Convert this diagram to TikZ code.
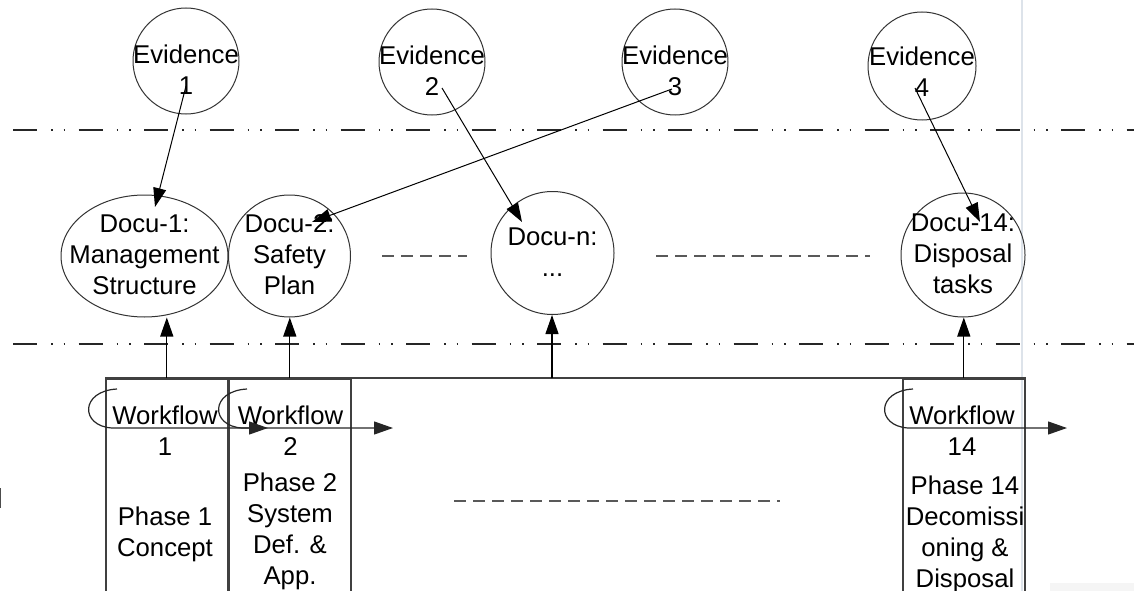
\documentclass[tikz,border=0pt]{standalone}
\usepackage{fontspec}
\setmainfont{Liberation Sans}
\usetikzlibrary{arrows.meta,shapes.geometric}
\begin{document}
\begin{tikzpicture}[x=1pt,y=-1pt,
  txt/.style={font=\fontsize{25.7}{31}\selectfont, align=center, inner sep=0pt},
  ring/.style={draw=black!80, line width=1pt, circle, inner sep=0pt},
  oval/.style={draw=black!80, line width=1pt, ellipse, inner sep=0pt},
  phasebox/.style={draw=black!75, line width=1.6pt, rectangle, anchor=north west,
    minimum width=122pt, minimum height=240pt, inner sep=0pt},
  tipstyle/.style={-{Triangle[length=19pt,width=13pt]}},
  evarrow/.style={tipstyle, line width=1pt, black},
  uparrow/.style={tipstyle, line width=1.2pt, black},
  flowarrow/.style={tipstyle, line width=1.2pt, black!85},
  laneline/.style={line width=1.6pt, black!85,
    dash pattern=on 24pt off 14pt on 1.5pt off 11pt on 1.5pt off 13.5pt},
  gapline/.style={line width=2.8pt, black!65, dash pattern=on 12pt off 7pt},
]
\useasboundingbox (0,0) rectangle (1134,591);
\clip (0,0) rectangle (1134,591);

% page edge marks
\draw[line width=2pt, color={rgb,255:red,221;green,227;blue,234}] (1022,0) -- (1022,591);
\fill[black!4] (1050,583) rectangle (1134,591);
\draw[line width=1.5pt, black!70] (0.5,488) -- (0.5,508);

% swim-lane separators
\draw[laneline] (13,130) -- (1134,130);
\draw[laneline] (13,344) -- (1134,344);

% evidence items
\node[ring, minimum size=106pt] (e1) at (186,61) {};
\node[txt] (te1) at (186,69.5) {Evidence\\1};
\node[ring, minimum size=106pt] (e2) at (432,62) {};
\node[txt] (te2) at (432,70.5) {Evidence\\2};
\node[ring, minimum size=106pt] (e3) at (675,62) {};
\node[txt] (te3) at (675,70.5) {Evidence\\3};
\node[ring, minimum size=108pt] (e4) at (922,66) {};
\node[txt] (te4) at (922,71.5) {Evidence\\4};

% documents
\node[oval, minimum width=167pt, minimum height=122pt] (d1) at (144.5,256) {};
\node[txt] (td1) at (144.5,254.5) {Docu-1:\\Management\\Structure};
\node[ring, minimum size=122pt] (d2) at (289.5,256) {};
\node[txt] (td2) at (289.5,254.5) {Docu-2:\\Safety\\Plan};
\node[ring, minimum size=123pt] (dn) at (552.5,253) {};
\node[txt] (tdn) at (552.5,252) {Docu-n:\\...};
\node[ring, minimum size=124pt] (d14) at (963,255) {};
\node[txt] (td14) at (963,254) {Docu-14:\\Disposal\\tasks};

% omitted documents / phases
\draw[gapline] (382,256) -- (467,256);
\draw[gapline] (656,256) -- (870,256);
\draw[gapline] (454,501) -- (780,501);

% phases
\node[phasebox] (p1) at (105,378) {};
\node[phasebox] (p2) at (228,378) {};
\node[phasebox] (p14) at (902,378) {};
\draw[line width=1.6pt, black!75] (p1.north west) -- (p14.north east);
\coordinate (pn) at (552,378);

\node[txt] (w1) at (165,431) {Workflow\\1};
\node[txt] (w2) at (290.5,431) {Workflow\\2};
\node[txt] (w14) at (962,431) {Workflow\\14};

\node[txt] (ph1) at (165,534) {Phase 1\\Concept};
\node[txt] (ph2) at (290,531.5) {Phase 2\\System\\Def. \&\\App.};
\node[txt] (ph14) at (965,534) {Phase 14\\Decomissi\\oning \&\\Disposal};

% workflow loops
\coordinate (w1a) at (117,389);
\coordinate (w1b) at (112,428);
\coordinate (w1c) at (268,428);
\coordinate (w2a) at (247,389);
\coordinate (w2b) at (242,428);
\coordinate (w2c) at (393,428);
\coordinate (w14a) at (913,389);
\coordinate (w14b) at (908,428);
\coordinate (w14c) at (1067,428);
\draw[flowarrow] (w1a) .. controls (80,391) and (80,426) .. (w1b) -- (w1c);
\draw[flowarrow] (w2a) .. controls (210,391) and (210,426) .. (w2b) -- (w2c);
\draw[flowarrow] (w14a) .. controls (876,391) and (876,426) .. (w14b) -- (w14c);

% phase outputs to documents
\draw[uparrow] (p1.north) -- (p1.north |- d1.south);
\draw[uparrow] (p2.north) -- (p2.north |- d2.south);
\draw[uparrow] (pn) -- (pn |- dn.south);
\draw[uparrow] (p14.north) -- (p14.north |- d14.south);

% evidence links
\coordinate (e1s) at (186,86);
\coordinate (e2s) at (442,88);
\coordinate (e3s) at (672,89);
\coordinate (e4s) at (915,88);
\coordinate (d1t) at (155,207);
\coordinate (dnt) at (522,222);
\coordinate (d2t) at (312,222);
\coordinate (d14t) at (980,222);
\draw[evarrow] (e1s) -- (d1t);
\draw[evarrow] (e2s) -- (dnt);
\draw[evarrow] (e3s) -- (d2t);
\draw[evarrow] (e4s) -- (d14t);
\end{tikzpicture}
\end{document}
